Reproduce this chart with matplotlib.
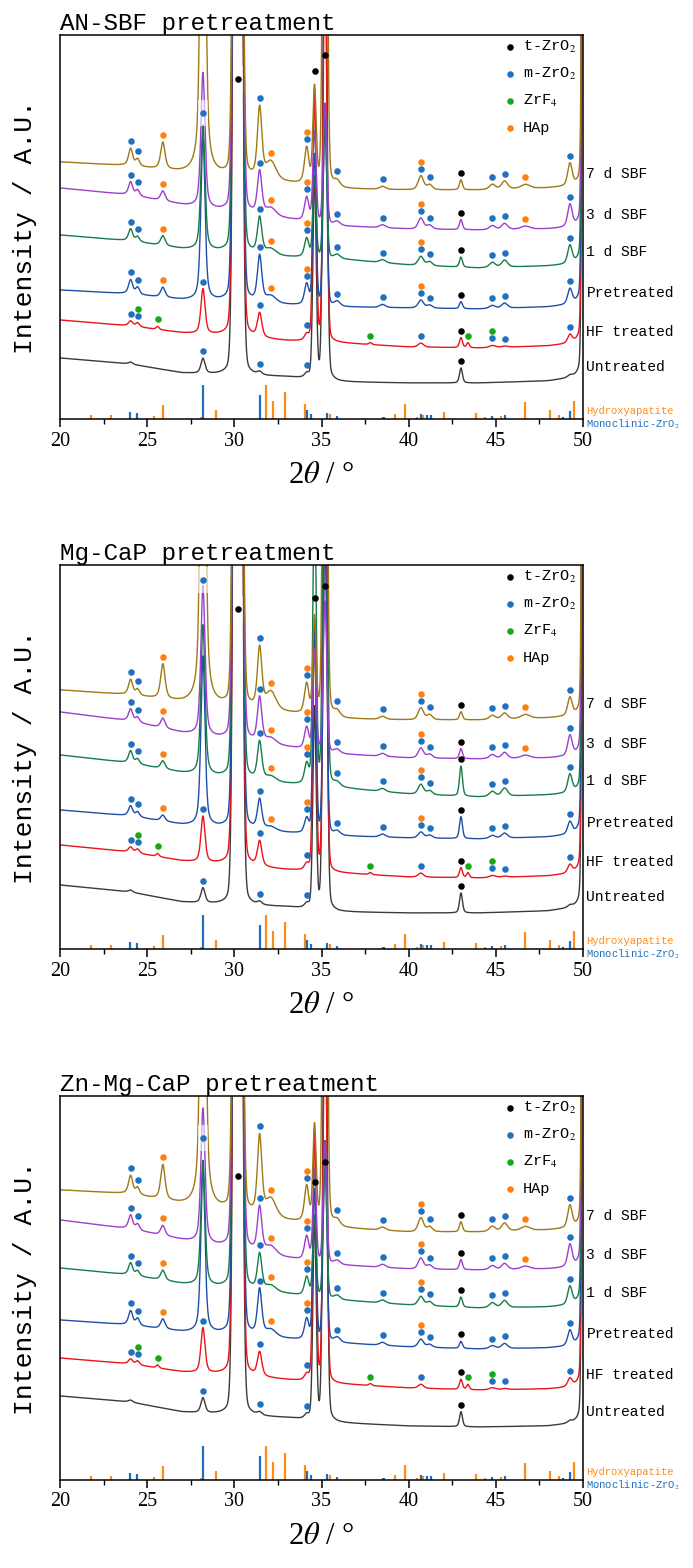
import numpy as np
import matplotlib.pyplot as plt
from matplotlib.patches import Rectangle
from matplotlib.ticker import MultipleLocator

plt.rcParams['mathtext.fontset'] = 'stix'
MONO = ['Liberation Mono', 'DejaVu Sans Mono']
SERIF = ['Liberation Serif', 'DejaVu Serif']

TWO_THETA = np.linspace(20, 50, 3001)

SAMPLES = ['7 d SBF', '3 d SBF', '1 d SBF', 'Pretreated', 'HF treated', 'Untreated']
LINE_COLORS = ['#A07814', '#9B3FCF', '#187B4A', '#1F4FA5', '#E8141A', '#3A3A3A']

PHASE_KEYS = ['t', 'm', 'f', 'h']
PHASE_NAMES = ['t-ZrO$_2$', 'm-ZrO$_2$', 'ZrF$_4$', 'HAp']
PHASE_COLORS = ['#000000', '#1F70C0', '#14A814', '#FF8010']

# reflections in the scans (2theta, half width, lorentz fraction)
PEAK_POS = [24.05, 24.45, 25.6, 25.9, 28.2, 30.2, 31.45, 32.1, 34.15, 34.6, 35.2, 35.9,
            37.8, 38.5, 40.7, 41.2, 43.0, 43.4, 44.8, 45.5, 46.7, 49.25, 50.1]
PEAK_HWHM = [0.14, 0.13, 0.1, 0.15, 0.14, 0.18, 0.15, 0.35, 0.15, 0.11, 0.12, 0.2,
             0.1, 0.2, 0.18, 0.18, 0.1, 0.09, 0.2, 0.2, 0.3, 0.15, 0.1]
PEAK_ETA = [0.6, 0.6, 0.5, 0.6, 0.5, 0.05, 0.5, 0.4, 0.5, 0.15, 0.15, 0.4,
            0.4, 0.4, 0.4, 0.4, 0.4, 0.4, 0.4, 0.4, 0.4, 0.4, 0.05]
BASE_X = [20, 24, 27, 30, 33, 36, 40, 44, 48, 50]

# AN-SBF pretreatment: baseline and peak heights (rows follow SAMPLES)
AN_BASE = [
    [257, 253, 246, 240, 236, 230, 229, 229, 231, 233],
    [231, 224, 214, 205, 200, 193, 190, 189, 190, 192],
    [184, 178, 170, 165, 162, 160, 154, 151, 153, 155],
    [129, 125, 119, 116, 114, 112, 111, 110, 112, 115],
    [99, 93, 86, 82, 78, 76, 72, 71, 73, 76],
    [61, 55, 46, 43, 42, 37, 36, 36, 38, 42],
]
AN_PEAKS = [
    [17, 7, 0, 27, 600, 2500, 70, 18, 36, 95, 800, 6, 0, 3, 14, 5, 10, 0, 5, 8, 4, 22, 3000],
    [13, 6, 0, 10, 135, 2500, 43, 8, 24, 90, 120, 4, 0, 3, 11, 4, 10, 0, 4, 6, 3, 22, 3000],
    [12, 5, 0, 10, 125, 2500, 36, 6, 19, 80, 130, 4, 0, 3, 9, 4, 10, 0, 5, 7, 0, 18, 3000],
    [14, 7, 0, 10, 165, 2500, 46, 7, 21, 150, 200, 5, 0, 3, 8, 3, 7, 0, 3, 5, 0, 15, 3000],
    [5, 4, 3, 0, 45, 2500, 24, 0, 6, 250, 400, 0, 2, 0, 4, 0, 10, 5, 2, 1, 0, 8, 3000],
    [2, 0, 0, 0, 15, 2500, 3, 0, 4, 200, 600, 0, 0, 0, 0, 0, 15, 0, 0, 0, 0, 2, 3000],
]
AN_TOP = [(28.2, 'm', 306), (30.2, 't', 340), (34.6, 't', 348), (35.2, 't', 364)]

# Mg-CaP pretreatment
MG_BASE = [
    [259, 254, 246, 240, 236, 230, 229, 229, 231, 233],
    [237, 228, 216, 207, 202, 195, 191, 190, 191, 193],
    [194, 186, 176, 169, 165, 161, 155, 152, 154, 156],
    [139, 133, 124, 119, 116, 113, 111, 110, 112, 115],
    [104, 97, 88, 83, 79, 76, 72, 71, 73, 76],
    [64, 57, 47, 43, 42, 37, 36, 36, 38, 42],
]
MG_PEAKS = [
    [15, 6, 0, 35, 600, 2500, 60, 18, 30, 95, 800, 6, 0, 3, 12, 5, 8, 0, 4, 6, 4, 18, 3000],
    [12, 5, 0, 10, 150, 2500, 45, 6, 22, 100, 150, 4, 0, 3, 10, 4, 10, 0, 4, 6, 3, 20, 3000],
    [12, 5, 0, 8, 150, 2500, 38, 5, 20, 300, 600, 4, 0, 3, 10, 4, 30, 0, 5, 8, 0, 18, 3000],
    [10, 5, 0, 6, 170, 2500, 30, 4, 15, 200, 300, 4, 0, 3, 6, 3, 22, 0, 3, 5, 0, 12, 3000],
    [5, 4, 3, 0, 46, 2500, 25, 0, 6, 250, 400, 0, 2, 0, 4, 0, 10, 5, 2, 1, 0, 8, 3000],
    [2, 0, 0, 0, 15, 2500, 3, 0, 4, 200, 600, 0, 0, 0, 0, 0, 20, 0, 0, 0, 0, 2, 3000],
]
MG_TOP = [(28.2, 'm', 369), (30.2, 't', 340), (34.6, 't', 351), (35.2, 't', 363)]

# Zn-Mg-CaP pretreatment
ZN_BASE = [
    [290, 286, 275, 266, 259, 252, 248, 248, 250, 252],
    [260, 251, 240, 230, 222, 215, 211, 210, 211, 213],
    [212, 205, 196, 190, 186, 180, 175, 172, 173, 175],
    [160, 155, 148, 144, 141, 137, 133, 131, 132, 134],
    [122, 116, 108, 104, 100, 96, 92, 90, 91, 93],
    [84, 78, 68, 64, 62, 57, 54, 53, 54, 57],
]
ZN_PEAKS = [
    [18, 7, 0, 35, 600, 2500, 78, 18, 36, 95, 800, 6, 0, 3, 14, 5, 10, 0, 5, 8, 4, 22, 3000],
    [14, 6, 0, 10, 135, 2500, 45, 8, 24, 90, 120, 4, 0, 3, 11, 4, 10, 0, 4, 6, 3, 22, 3000],
    [12, 5, 0, 10, 125, 2500, 36, 6, 19, 80, 130, 4, 0, 3, 9, 4, 10, 0, 5, 7, 0, 18, 3000],
    [14, 7, 0, 10, 165, 2500, 46, 7, 21, 150, 200, 5, 0, 3, 8, 3, 7, 0, 3, 5, 0, 15, 3000],
    [5, 4, 3, 0, 45, 2500, 24, 0, 6, 250, 400, 0, 2, 0, 4, 0, 10, 5, 2, 1, 0, 8, 3000],
    [2, 0, 0, 0, 15, 2500, 3, 0, 4, 200, 600, 0, 0, 0, 0, 0, 15, 0, 0, 0, 0, 2, 3000],
]
ZN_TOP = [(28.2, 'm', 342), (30.2, 't', 304), (34.6, 't', 298), (35.2, 't', 318)]

# phase markers on every scan (stacked in list order)
MARKS_SBF = [(24.05, 'm'), (24.45, 'm'), (25.9, 'h'), (31.45, 'm'), (32.1, 'h'),
             (34.15, 'm'), (34.15, 'h'), (35.9, 'm'), (38.5, 'm'), (40.7, 'm'), (40.7, 'h'),
             (41.2, 'm'), (43.0, 't'), (44.8, 'm'), (45.5, 'm'), (46.7, 'h'), (49.25, 'm')]
MARKS_1D = [mk for mk in MARKS_SBF if mk != (46.7, 'h')]
MARKS_HF = [(24.05, 'm'), (24.45, 'm'), (24.45, 'f'), (25.6, 'f'), (28.2, 'm'), (31.45, 'm'),
            (34.15, 'm'), (37.8, 'f'), (40.7, 'm'), (43.0, 't'), (43.4, 'f'), (44.8, 'm'),
            (44.8, 'f'), (45.5, 'm'), (49.25, 'm')]
MARKS_UN = [(28.2, 'm'), (31.45, 'm'), (34.15, 'm'), (43.0, 't')]
SAMPLE_MARKS = [MARKS_SBF, MARKS_SBF, MARKS_1D, MARKS_1D, MARKS_HF, MARKS_UN]

# reference patterns (stick heights)
HAP_POS = [21.8, 22.9, 25.4, 25.9, 28.1, 28.95, 31.8, 32.2, 32.9, 34.05, 35.5, 39.2, 39.8,
           40.45, 40.8, 42.0, 43.85, 44.4, 45.3, 46.7, 48.1, 48.6, 49.5]
HAP_INT = [4, 4, 3, 14, 2, 9, 34, 18, 27, 15, 5, 5, 15, 2, 4, 7, 6, 2, 3, 17, 9, 4, 18]
MZR_POS = [24.02, 24.44, 28.18, 31.47, 34.15, 34.4, 35.3, 35.9, 38.5, 38.6, 40.7, 41.05,
           41.3, 44.8, 45.5, 48.85, 49.27]
MZR_INT = [7, 6, 34, 24, 9, 5, 6, 3, 2, 2, 5, 4, 4, 3, 4, 2, 8]

PANELS = [
    ('AN-SBF pretreatment', AN_BASE, AN_PEAKS, AN_TOP),
    ('Mg-CaP pretreatment', MG_BASE, MG_PEAKS, MG_TOP),
    ('Zn-Mg-CaP pretreatment', ZN_BASE, ZN_PEAKS, ZN_TOP),
]


def profile(x, pos, h, w, eta):
    d2 = ((x - pos) / w) ** 2
    return h * (eta / (1 + d2) + (1 - eta) * np.exp(-np.log(2) * d2))


def scan(base, heights):
    y = np.interp(TWO_THETA, BASE_X, base)
    for p, h, w, e in zip(PEAK_POS, heights, PEAK_HWHM, PEAK_ETA):
        if h:
            y = y + profile(TWO_THETA, p, h, w, e)
    return y


def draw_panel(ax, title, bases, peaks, top_marks):
    ax.set_xlim(20, 50)
    ax.set_ylim(0, 384)
    colors = dict(zip(PHASE_KEYS, PHASE_COLORS))

    # stick patterns
    ax.vlines(HAP_POS, 0, HAP_INT, color='#FF8C1A', lw=1.6, zorder=1)
    ax.vlines(MZR_POS, 0, MZR_INT, color='#1F6FBF', lw=1.6, zorder=1)

    for i in reversed(range(len(SAMPLES))):
        y = scan(bases[i], peaks[i])
        ax.plot(TWO_THETA, y, color=LINE_COLORS[i], lw=1.0, zorder=2)
        stack = {}
        for pos, ph in SAMPLE_MARKS[i]:
            win = np.abs(TWO_THETA - pos) < 0.06
            n = stack.get(pos, 0)
            stack[pos] = n + 1
            ax.plot(pos, y[win].max() + 7 + 7 * n, 'o', ms=4.7, mew=0,
                    color=colors[ph], zorder=4)
        ax.text(50.2, bases[i][-2] + 14, SAMPLES[i], fontsize=10.5, family=MONO,
                va='center', ha='left', clip_on=False)

    for pos, ph, yy in top_marks:
        if pos < 31:
            ax.add_patch(Rectangle((pos - 0.3, yy - 13), 0.6, 26, fc='white',
                                   ec='none', alpha=0.6, zorder=3))
        ax.plot(pos, yy, 'o', ms=4.7, mew=0, color=colors[ph], zorder=4)

    # legend
    for k, (name, c) in enumerate(zip(PHASE_NAMES, PHASE_COLORS)):
        yf = 1 - (12 + 27 * k) / 384
        ax.plot(0.860, yf, 'o', ms=4.7, mew=0, color=c, transform=ax.transAxes)
        ax.text(0.885, yf, name, fontsize=11, family=MONO, va='center',
                transform=ax.transAxes)

    ax.text(50.2, 8, 'Hydroxyapatite', color='#FF8C1A', fontsize=7.6, family=MONO,
            va='center', clip_on=False)
    ax.text(50.2, -5, 'Monoclinic-ZrO$_2$', color='#1F6FBF', fontsize=7.6, family=MONO,
            va='center', clip_on=False)

    ax.text(0, 1 + 5 / 384, title, transform=ax.transAxes, fontsize=17.5, family=MONO,
            va='baseline', ha='left')
    ax.text(0.5, -56 / 384, r'2$\theta$ / °', transform=ax.transAxes, fontsize=22,
            family=SERIF, ha='center', va='center')

    ax.set_yticks([])
    ax.xaxis.set_major_locator(MultipleLocator(5))
    ax.xaxis.set_minor_locator(MultipleLocator(2.5))
    ax.tick_params(axis='x', which='major', direction='out', length=6, width=1.1,
                   labelsize=14.5, pad=3)
    ax.tick_params(axis='x', which='minor', direction='out', length=3.5, width=1.0)
    for lab in ax.get_xticklabels():
        lab.set_family(SERIF)
    for sp in ax.spines.values():
        sp.set_linewidth(1.1)
        sp.set_color('black')


fig = plt.figure(figsize=(6.93, 15.68), dpi=100)
bottoms = [1 - 419 / 1568, 1 - 949 / 1568, 1 - 1480 / 1568]
for (title, bases, peaks, top), b in zip(PANELS, bottoms):
    ax = fig.add_axes([60 / 693, b, 523 / 693, 384 / 1568])
    draw_panel(ax, title, bases, peaks, top)
    fig.text(25 / 693, b + 192 / 1568, 'Intensity / A.U.', rotation=90, fontsize=19,
             family=MONO, ha='center', va='center')

fig.savefig('out.png', dpi=100)
